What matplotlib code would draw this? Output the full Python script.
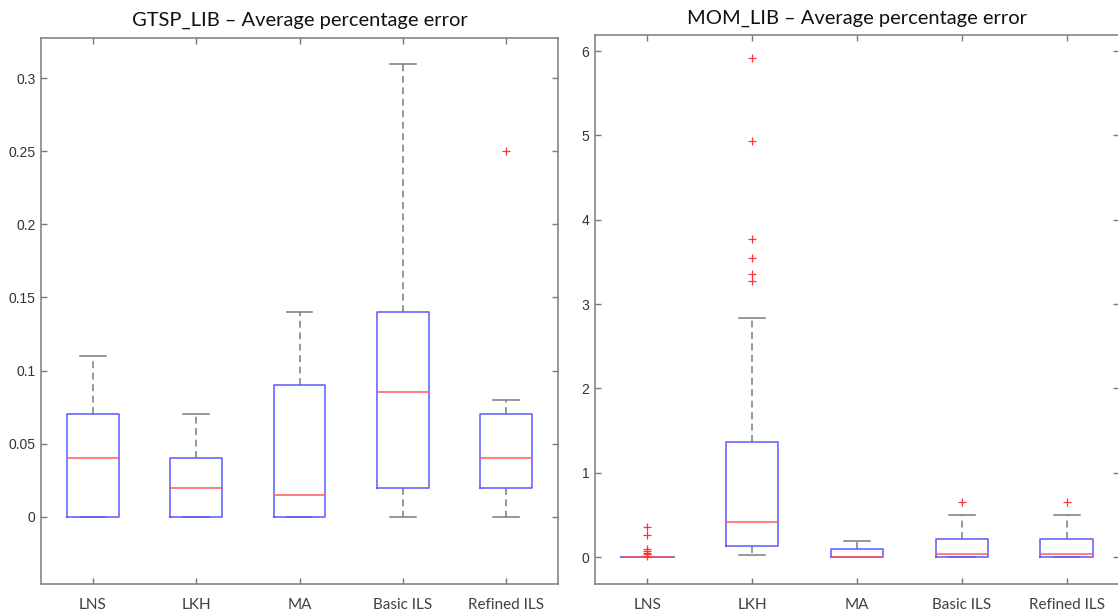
import matplotlib
matplotlib.use("Agg")
import matplotlib.pyplot as plt

categories = ["LNS", "LKH", "MA", "Basic ILS", "Refined ILS"]

# GTSP_LIB five-number summaries + outliers
gtsp_low = [0.0, 0.0, 0.0, 0.0, 0.0]
gtsp_q1 = [0.0, 0.0, 0.0, 0.02, 0.02]
gtsp_med = [0.04, 0.02, 0.015, 0.085, 0.04]
gtsp_q3 = [0.07, 0.04, 0.09, 0.14, 0.07]
gtsp_high = [0.11, 0.07, 0.14, 0.31, 0.08]
gtsp_out = [[], [], [], [], [0.25]]

# MOM_LIB five-number summaries + outliers
mom_low = [0.0, 0.02, 0.0, 0.0, 0.0]
mom_q1 = [0.0, 0.13, 0.0, 0.0, 0.0]
mom_med = [0.0, 0.42, 0.0, 0.036, 0.036]
mom_q3 = [0.0, 1.36, 0.09, 0.21, 0.21]
mom_high = [0.0, 2.83, 0.19, 0.50, 0.50]
mom_out = [[0.36, 0.26, 0.09, 0.07, 0.05, 0.03, 0.01],
           [5.92, 4.93, 3.77, 3.54, 3.36, 3.27],
           [], [0.65], [0.65]]

gtsp_ticks = [0, 0.05, 0.1, 0.15, 0.2, 0.25, 0.3]
gtsp_ticklabels = ["0", "0.05", "0.1", "0.15", "0.2", "0.25", "0.3"]
mom_ticks = [0, 1, 2, 3, 4, 5, 6]

BLUE = "#5a5aff"
RED = "#ff5a5a"
WHISK = "#7a7a7a"
SPINE = "#7a7a7a"

fig = plt.figure(figsize=(11.18, 6.13), dpi=100)
axL = fig.add_axes([41 / 1118, 1 - 584 / 613, (558 - 41) / 1118, (584 - 38) / 613])
axR = fig.add_axes([595 / 1118, 1 - 584 / 613, (1119 - 595) / 1118, (584 - 35) / 613])


def draw(ax, low, q1, med, q3, high, out, title, ylim, ticks, ticklabels, tpad):
    stats = []
    for i in range(len(categories)):
        stats.append(dict(whislo=low[i], q1=q1[i], med=med[i], q3=q3[i],
                          whishi=high[i], fliers=out[i], label=categories[i]))
    ax.bxp(stats, positions=range(1, len(categories) + 1), widths=0.5,
           boxprops=dict(color=BLUE, linewidth=1.1, zorder=3),
           medianprops=dict(color=RED, linewidth=1.1, zorder=4),
           whiskerprops=dict(color=WHISK, linewidth=1.1, linestyle=(0, (4.5, 3)), zorder=2),
           capprops=dict(color=WHISK, linewidth=1.1, zorder=2),
           flierprops=dict(marker="+", markeredgecolor="#ff3333", markersize=6,
                           markeredgewidth=0.9, linestyle="none", zorder=5))
    ax.set_xlim(0.5, 5.5)
    ax.set_ylim(*ylim)
    ax.set_yticks(ticks)
    ax.set_yticklabels(ticklabels, fontfamily="Liberation Sans", fontsize=10, color="#333333")
    ax.set_xticks(range(1, len(categories) + 1))
    ax.set_xticklabels(categories, fontfamily="Lato", fontsize=11, color="#404040")
    ax.tick_params(axis="both", direction="in", length=4, width=1, color=SPINE,
                   top=True, right=True)
    ax.tick_params(axis="x", pad=10)
    ax.tick_params(axis="y", pad=4)
    for s in ax.spines.values():
        s.set_color(SPINE)
        s.set_linewidth(1.1)
    ax.set_title(title, fontfamily="Lato", fontsize=14.5, color="#111111", pad=tpad)


draw(axL, gtsp_low, gtsp_q1, gtsp_med, gtsp_q3, gtsp_high, gtsp_out,
     "GTSP_LIB \u2013 Average percentage error", (-0.046, 0.3275),
     gtsp_ticks, gtsp_ticklabels, 9)
draw(axR, mom_low, mom_q1, mom_med, mom_q3, mom_high, mom_out,
     "MOM_LIB \u2013 Average percentage error", (-0.32, 6.19),
     mom_ticks, [str(t) for t in mom_ticks], 8)

fig.savefig("out.png", dpi=100)
